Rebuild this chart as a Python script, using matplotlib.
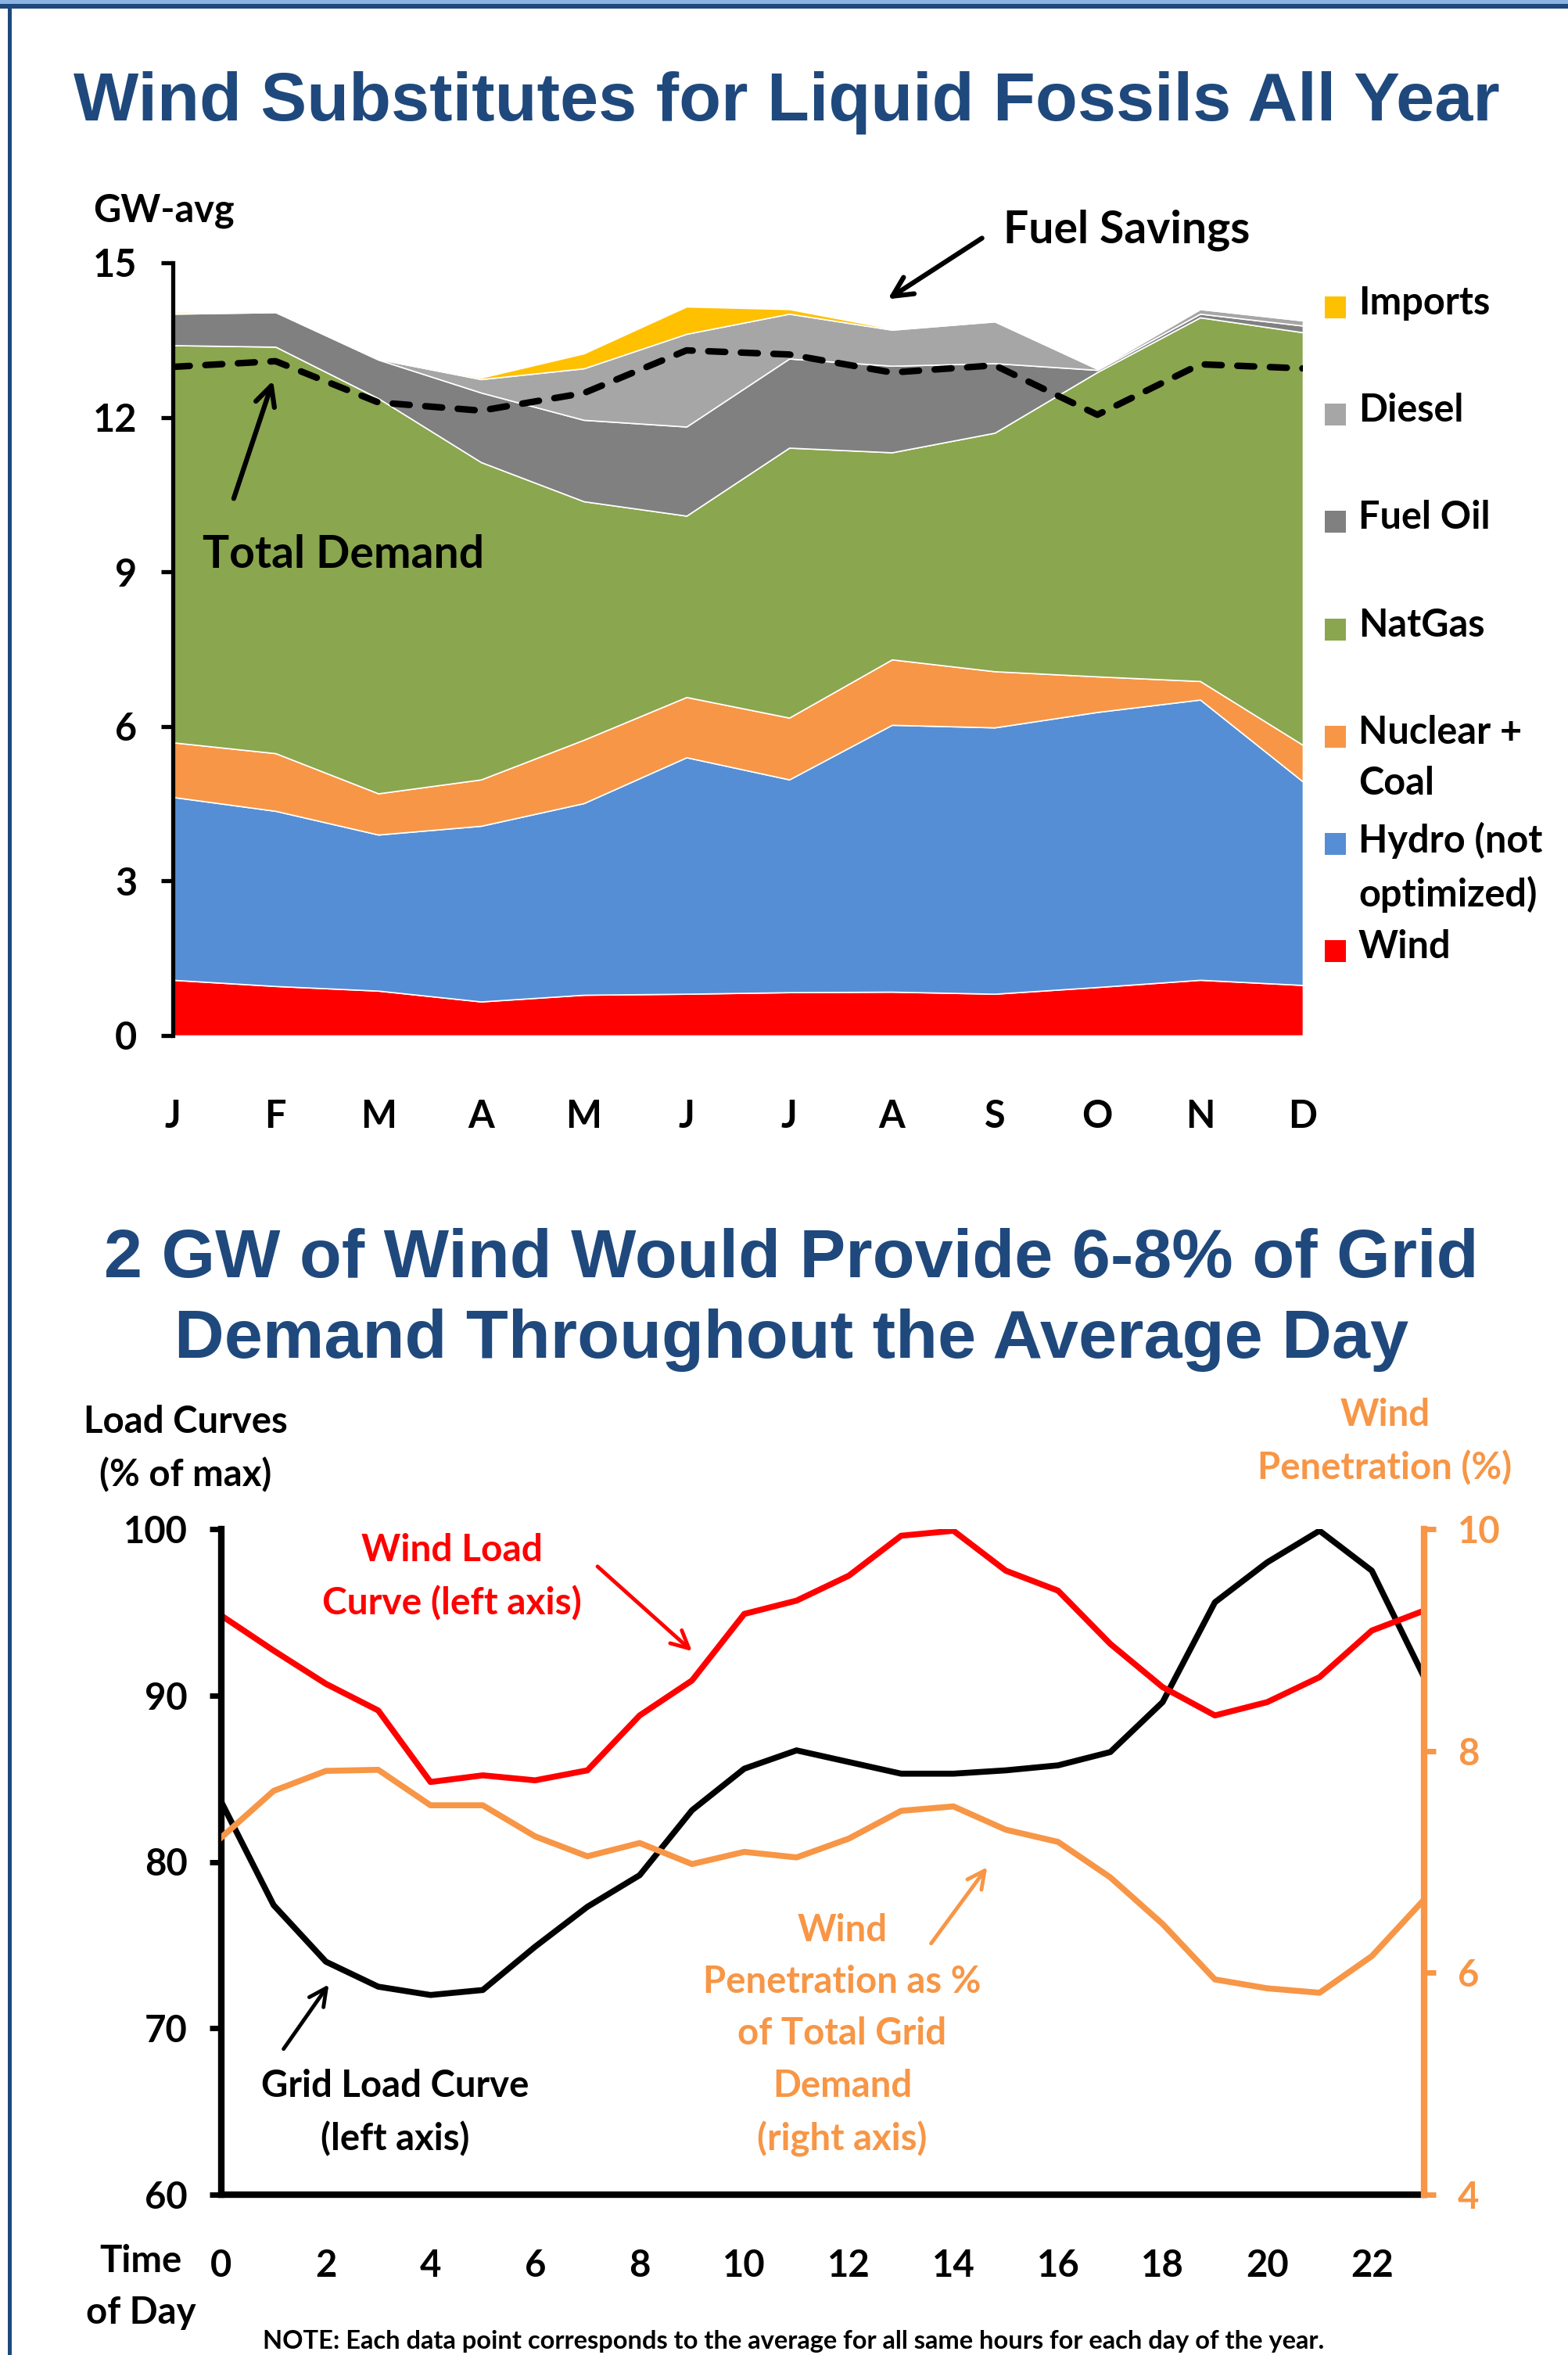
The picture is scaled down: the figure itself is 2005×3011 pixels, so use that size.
import numpy as np
import matplotlib.pyplot as plt
from matplotlib.patches import Rectangle

plt.rcParams['font.family'] = ['Lato', 'DejaVu Sans']
plt.rcParams['font.weight'] = 'bold'

W, H = 2005, 3011

# ---- monthly generation mix (GW-avg), stacked layers ----
months = ['J', 'F', 'M', 'A', 'M', 'J', 'J', 'A', 'S', 'O', 'N', 'D']
wind_gw    = [1.08, 0.96, 0.87, 0.66, 0.79, 0.81, 0.84, 0.85, 0.81, 0.94, 1.08, 0.98]
hydro_gw   = [3.55, 3.40, 3.03, 3.41, 3.72, 4.59, 4.13, 5.18, 5.17, 5.34, 5.44, 3.95]
nuclear_gw = [1.06, 1.12, 0.80, 0.90, 1.23, 1.17, 1.20, 1.27, 1.09, 0.69, 0.36, 0.71]
natgas_gw  = [7.71, 7.89, 7.67, 6.16, 4.63, 3.52, 5.24, 4.02, 4.63, 5.91, 7.06, 8.01]
fueloil_gw = [0.61, 0.67, 0.75, 1.35, 1.58, 1.73, 1.73, 1.68, 1.35, 0.04, 0.07, 0.13]
diesel_gw  = [0.01, 0.01, 0.01, 0.26, 1.00, 1.80, 0.87, 0.70, 0.81, 0.02, 0.09, 0.10]
imports_gw = [0.03, 0.01, 0.01, 0.03, 0.29, 0.53, 0.09, 0.02, 0.01, 0.01, 0.02, 0.02]
total_demand = [12.98, 13.09, 12.29, 12.13, 12.47, 13.30, 13.22, 12.87, 13.01, 12.05, 13.03, 12.95]

layer_labels = ['Wind', 'Hydro (not\noptimized)', 'Nuclear +\nCoal', 'NatGas',
                'Fuel Oil', 'Diesel', 'Imports']
layer_colors = ['#ff0000', '#558ed5', '#f79646', '#8aa64f', '#808080', '#a6a6a6', '#ffc000']

# ---- average day load curves ----
hours = list(range(24))
grid_load = [83.6, 77.4, 74.0, 72.5, 72.0, 72.3, 74.9, 77.3, 79.2, 83.1, 85.6, 86.7,
             86.0, 85.3, 85.3, 85.5, 85.8, 86.6, 89.6, 95.6, 98.0, 99.9, 97.5, 91.1]
wind_load = [94.8, 92.7, 90.7, 89.1, 84.8, 85.2, 84.9, 85.5, 88.8, 90.9, 94.9, 95.7,
             97.2, 99.6, 99.9, 97.5, 96.3, 93.1, 90.5, 88.8, 89.6, 91.1, 93.9, 95.1]
wind_pen = [7.22, 7.64, 7.82, 7.83, 7.51, 7.51, 7.23, 7.05, 7.17, 6.98, 7.09, 7.04,
            7.21, 7.46, 7.50, 7.29, 7.18, 6.86, 6.44, 5.94, 5.86, 5.82, 6.15, 6.66]

TITLE_BLUE = '#1f497d'
ORANGE = '#f79646'


def fx(px):
    return px / W


def fy(py):
    return 1 - py / H


fig = plt.figure(figsize=(W / 100, H / 100), dpi=100)

# frame decoration
fig.add_artist(Rectangle((0, fy(5)), 1, 5 / H, transform=fig.transFigure, color='#8db3e2', lw=0))
fig.add_artist(Rectangle((0, fy(11)), 1, 6 / H, transform=fig.transFigure, color=TITLE_BLUE, lw=0))
fig.add_artist(Rectangle((fx(10), 0), 5 / W, fy(11), transform=fig.transFigure, color=TITLE_BLUE, lw=0))

# ================= top chart =================
fig.text(fx(1006), fy(131), 'Wind Substitutes for Liquid Fossils All Year',
         family='Liberation Sans', weight='bold', fontsize=63.5, color=TITLE_BLUE,
         ha='center', va='center')

ax = fig.add_axes([fx(221), fy(1324), (1666 - 221) / W, (1324 - 336) / H])
x = np.arange(len(months))
ax.stackplot(x, wind_gw, hydro_gw, nuclear_gw, natgas_gw, fueloil_gw, diesel_gw, imports_gw,
             colors=layer_colors, edgecolor='white', linewidth=1.2)
ax.plot(x, total_demand, color='black', lw=6, dashes=(2.6, 2.4), dash_capstyle='round')
ax.set_xlim(0, 11)
ax.set_ylim(0, 15)
ax.set_xticks(x)
ax.set_xticklabels(months)
ax.set_yticks([0, 3, 6, 9, 12, 15])
for s in ['top', 'right', 'bottom']:
    ax.spines[s].set_visible(False)
ax.spines['left'].set_linewidth(3.8)
ax.tick_params(axis='y', direction='out', length=11, width=3.8, pad=22, labelsize=35)
ax.tick_params(axis='x', length=0, pad=58, labelsize=35)

fig.text(fx(119), fy(269), 'GW-avg', fontsize=35, ha='left', va='center')

# legend drawn by hand so the squares sit on the first text line
for i, (lab, col) in enumerate(zip(layer_labels[::-1], layer_colors[::-1])):
    yc = 393 + 137.2 * i
    fig.add_artist(Rectangle((fx(1694), fy(yc + 14)), 27 / W, 28 / H,
                             transform=fig.transFigure, color=col, lw=0))
    fig.text(fx(1737), fy(yc - 28), lab, fontsize=35, ha='left', va='top', linespacing=1.55)

fig.text(fx(1283), fy(294), 'Fuel Savings', fontsize=41, ha='left', va='center')
ax.annotate('', xy=(fx(1133), fy(384)), xycoords='figure fraction',
            xytext=(fx(1258), fy(303)), textcoords='figure fraction',
            arrowprops=dict(arrowstyle='->', lw=4.5, color='black', mutation_scale=45))
fig.text(fx(259), fy(709), 'Total Demand', fontsize=41, ha='left', va='center')
ax.annotate('', xy=(fx(350), fy(484)), xycoords='figure fraction',
            xytext=(fx(298), fy(640)), textcoords='figure fraction',
            arrowprops=dict(arrowstyle='->', lw=4.5, color='black', mutation_scale=45))

# ================= bottom chart =================
fig.text(fx(1012), fy(1662), '2 GW of Wind Would Provide 6-8% of Grid\nDemand Throughout the Average Day',
         family='Liberation Sans', weight='bold', fontsize=63.5, color=TITLE_BLUE,
         ha='center', va='center', linespacing=1.36)

bx = fig.add_axes([fx(283), fy(2806), (1821 - 283) / W, (2806 - 1955) / H])
bx.plot(hours, grid_load, color='black', lw=5.5)
bx.plot(hours, wind_load, color='#ff0000', lw=5.5)
bx.set_xlim(0, 23)
bx.set_ylim(60, 100)
bx.set_yticks([60, 70, 80, 90, 100])
bx.set_xticks(range(0, 23, 2))
for s in ['top', 'right']:
    bx.spines[s].set_visible(False)
bx.spines['left'].set_linewidth(6)
bx.spines['bottom'].set_linewidth(6)
bx.tick_params(axis='y', direction='out', length=11, width=5, pad=20, labelsize=34)
bx.tick_params(axis='x', length=0, pad=50, labelsize=34)

bx2 = bx.twinx()
bx2.plot(hours, wind_pen, color=ORANGE, lw=5.5)
bx2.set_ylim(4, 10)
bx2.set_yticks([4, 6, 8, 10])
for s in ['top', 'left', 'bottom']:
    bx2.spines[s].set_visible(False)
bx2.spines['right'].set_linewidth(6)
bx2.spines['right'].set_color(ORANGE)
bx2.tick_params(axis='y', direction='out', length=11, width=5, pad=20, labelsize=34,
                colors=ORANGE)

fig.text(fx(237), fy(1852), 'Load Curves\n(% of max)', fontsize=34, ha='center', va='center',
         linespacing=1.62)
fig.text(fx(1771), fy(1843), 'Wind\nPenetration (%)', fontsize=34, ha='center', va='center',
         color=ORANGE, linespacing=1.62)
fig.text(fx(180), fy(2924), 'Time\nof Day', fontsize=34, ha='center', va='center', linespacing=1.62)

fig.text(fx(578), fy(2016), 'Wind Load\nCurve (left axis)', fontsize=34.5, ha='center', va='center',
         color='#ff0000', linespacing=1.62)
bx.annotate('', xy=(fx(887), fy(2113)), xycoords='figure fraction',
            xytext=(fx(762), fy(2001)), textcoords='figure fraction',
            arrowprops=dict(arrowstyle='->', lw=3.5, color='#ff0000', mutation_scale=40))
fig.text(fx(505), fy(2701), 'Grid Load Curve\n(left axis)', fontsize=34, ha='center', va='center',
         linespacing=1.62)
bx.annotate('', xy=(fx(422), fy(2535)), xycoords='figure fraction',
            xytext=(fx(361), fy(2622)), textcoords='figure fraction',
            arrowprops=dict(arrowstyle='->', lw=3.5, color='black', mutation_scale=40))
fig.text(fx(1077), fy(2602), 'Wind\nPenetration as %\nof Total Grid\nDemand\n(right axis)',
         fontsize=34, ha='center', va='center', color=ORANGE, linespacing=1.62)
bx.annotate('', xy=(fx(1264), fy(2385)), xycoords='figure fraction',
            xytext=(fx(1189), fy(2487)), textcoords='figure fraction',
            arrowprops=dict(arrowstyle='->', lw=3.5, color=ORANGE, mutation_scale=40))

fig.text(fx(336), fy(3003),
         'NOTE: Each data point corresponds to the average for all same hours for each day of the year.',
         fontsize=23.5, ha='left', va='baseline')

fig.savefig('out.png', dpi=100)
